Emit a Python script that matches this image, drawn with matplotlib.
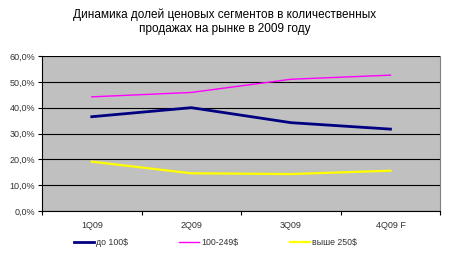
import matplotlib
matplotlib.use("Agg")
import matplotlib.pyplot as plt
from matplotlib.ticker import FuncFormatter, FixedLocator

plt.rcParams['font.family'] = ['Liberation Sans', 'DejaVu Sans']

categories = ["1Q09", "2Q09", "3Q09", "4Q09 F"]
under100 = [36.5, 40.0, 34.2, 31.7]
mid100_249 = [44.2, 45.9, 51.0, 52.6]
over250 = [19.1, 14.6, 14.3, 15.6]
series_names = ["до 100$", "100-249$", "выше 250$"]
title = "Динамика долей ценовых сегментов в количественных\nпродажах на рынке в 2009 году"

fig = plt.figure(figsize=(4.5, 2.57), dpi=100)
fig.patch.set_facecolor("white")
ax = fig.add_axes([0.0933, 0.179, 0.885, 0.603])
ax.set_facecolor("#C0C0C0")

x = list(range(len(categories)))
l1, = ax.plot(x, under100, color="#000080", lw=2.0, solid_joinstyle="round", zorder=3)
l2, = ax.plot(x, mid100_249, color="#FF00FF", lw=1.0, zorder=3)
l3, = ax.plot(x, over250, color="#FFFF00", lw=1.6, zorder=3)

ax.set_xlim(-0.5, len(categories) - 0.5)
ax.set_ylim(0, 60)
ax.set_yticks(range(0, 61, 10))
ax.yaxis.set_major_formatter(FuncFormatter(lambda v, p: f"{v:.1f}%".replace(".", ",")))
ax.grid(axis="y", color="black", lw=0.8, zorder=1)
ax.set_axisbelow(True)

ax.set_xticks(x)
ax.set_xticklabels(categories)
ax.xaxis.set_minor_locator(FixedLocator([i + 0.5 for i in range(-1, len(categories))]))
ax.tick_params(axis="x", which="major", length=0, labelsize=6.5, colors="#333333", pad=7)
ax.tick_params(axis="x", which="minor", length=3, width=0.8, color="black")
ax.tick_params(axis="y", length=3, width=0.8, labelsize=6.5, labelcolor="#333333", pad=2)

for s in ["left", "bottom"]:
    ax.spines[s].set_color("black")
    ax.spines[s].set_linewidth(0.8)
ax.spines["top"].set_visible(False)
ax.spines["right"].set_color("#808080")
ax.spines["right"].set_linewidth(0.8)

fig.text(0.5, 0.968, title, ha="center", va="top", fontsize=8.5, linespacing=1.3, color="black")

leg = fig.legend([l1, l2, l3], series_names, loc="center", bbox_to_anchor=(0.478, 0.055),
                 ncol=3, frameon=False, fontsize=6.3, handlelength=2.3, handletextpad=0.2,
                 columnspacing=5.9, labelcolor="#333333")

fig.savefig("out.png", dpi=100)
